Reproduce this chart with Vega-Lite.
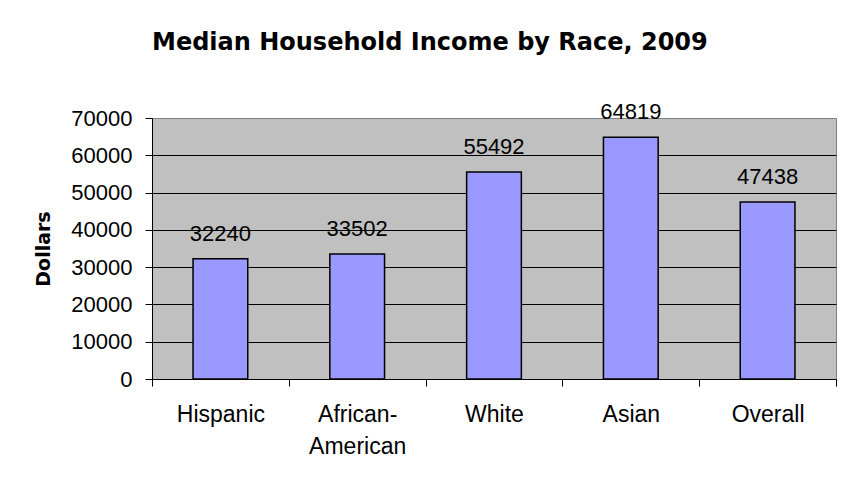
{
  "$schema": "https://vega.github.io/schema/vega-lite/v6.json",
  "autosize": "none",
  "width": 684,
  "height": 261,
  "padding": {"left": 152, "top": 118, "right": 7, "bottom": 98},
  "background": "white",
  "title": {
    "text": "Median Household Income by Race, 2009",
    "anchor": "start",
    "frame": "group",
    "font": "DejaVu Sans",
    "fontWeight": "bold",
    "fontSize": 24,
    "color": "black",
    "offset": 46
  },
  "config": {
    "view": {"fill": "#C0C0C0", "stroke": "#808080", "strokeWidth": 1},
    "font": "Liberation Sans"
  },
  "data": {
    "values": [
      {"race": "Hispanic", "income": 32240},
      {"race": "African-American", "income": 33502},
      {"race": "White", "income": 55492},
      {"race": "Asian", "income": 64819},
      {"race": "Overall", "income": 47438}
    ]
  },
  "encoding": {
    "x": {
      "field": "race",
      "type": "nominal",
      "sort": null,
      "scale": {"paddingInner": 0, "paddingOuter": 0},
      "axis": {
        "title": null,
        "labelAngle": 0,
        "labelFont": "Liberation Sans",
        "labelFontSize": 23,
        "labelColor": "black",
        "labelPadding": 17,
        "labelLineHeight": 32,
        "labelExpr": "datum.value == 'African-American' ? ['African-', 'American'] : datum.value",
        "tickBand": "extent",
        "tickSize": 7,
        "tickColor": "black",
        "domainColor": "black",
        "grid": false
      }
    },
    "y": {
      "field": "income",
      "type": "quantitative",
      "scale": {"domain": [0, 70000], "nice": false},
      "axis": {
        "title": "Dollars",
        "titleFont": "DejaVu Sans",
        "titleFontWeight": "bold",
        "titleFontSize": 19,
        "titleColor": "black",
        "titleX": -103,
        "titleY": 130.5,
        "titleBaseline": "alphabetic",
        "values": [0, 10000, 20000, 30000, 40000, 50000, 60000, 70000],
        "format": "d",
        "labelFont": "Liberation Sans",
        "labelFontSize": 22,
        "labelColor": "black",
        "labelPadding": 13,
        "tickSize": 7,
        "tickColor": "black",
        "domainColor": "black",
        "grid": true,
        "gridColor": {"condition": {"test": "datum.value == 70000", "value": "#808080"}, "value": "black"},
        "gridOpacity": 1
      }
    }
  },
  "layer": [
    {
      "mark": {"type": "bar", "width": {"band": 0.4}, "fill": "#9999FF", "stroke": "black", "strokeWidth": 1.5}
    },
    {
      "mark": {"type": "text", "baseline": "alphabetic", "align": "center", "dy": -18, "font": "Liberation Sans", "fontSize": 22, "color": "black"},
      "encoding": {"text": {"field": "income", "type": "quantitative", "format": "d"}}
    }
  ]
}
